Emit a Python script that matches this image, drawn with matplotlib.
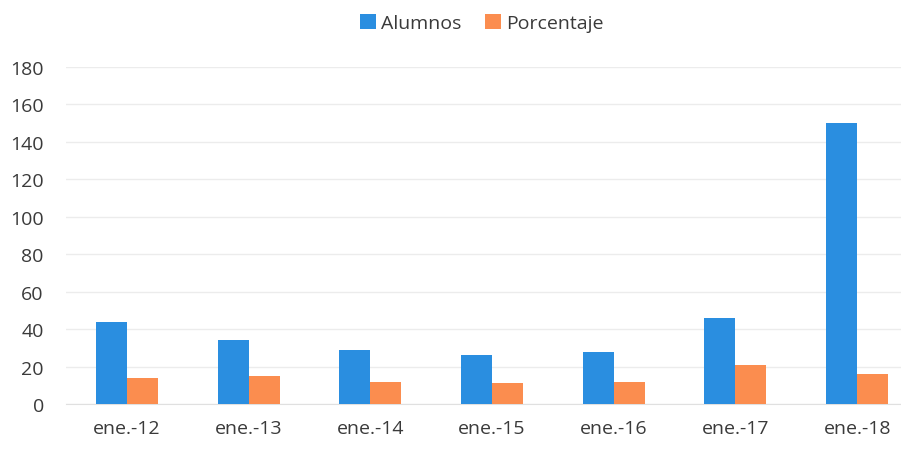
import matplotlib.pyplot as plt
import numpy as np

categories = ['ene.-12', 'ene.-13', 'ene.-14', 'ene.-15', 'ene.-16', 'ene.-17', 'ene.-18']
alumnos = [44, 34, 29, 26, 28, 46, 150]
porcentaje = [14, 15, 12, 11, 12, 21, 16]
y_ticks = list(range(0, 181, 20))

plt.rcParams['font.family'] = ['Open Sans', 'DejaVu Sans']

fig = plt.figure(figsize=(9.01, 4.56), dpi=100)
ax = fig.add_axes([66 / 901, 51 / 456, 835 / 901, 337 / 456])

x = np.arange(len(categories))
w = 0.255
ax.bar(x - w / 2, alumnos, w, color='#2a8ee0', label='Alumnos', zorder=3)
ax.bar(x + w / 2, porcentaje, w, color='#fb8d4f', label='Porcentaje', zorder=3)

ax.set_xlim(-0.5, 6.36)
ax.set_ylim(0, 180)
ax.set_yticks(y_ticks)
ax.set_xticks(x)
ax.set_xticklabels(categories)
ax.tick_params(axis='both', length=0, labelsize=14, colors='#3a3a3a')
ax.tick_params(axis='x', pad=11)
ax.tick_params(axis='y', pad=16)
ax.grid(axis='y', color='#ececec', linewidth=1, zorder=0)
for s in ['top', 'right', 'left']:
    ax.spines[s].set_visible(False)
ax.spines['bottom'].set_color('#e0e0e0')

fig.legend(loc='upper center', bbox_to_anchor=(0.535, 1.005), ncol=2, frameon=False,
           fontsize=14, handlelength=0.8, handleheight=0.8, handletextpad=0.3,
           columnspacing=1.2, labelcolor='#3a3a3a')

fig.savefig('out.png', dpi=100)
